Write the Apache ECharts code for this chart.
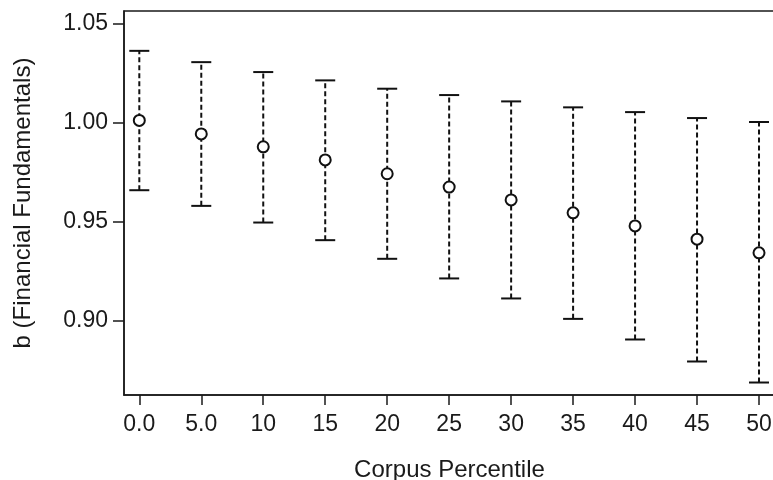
<!DOCTYPE html>
<html>
<head>
<meta charset="utf-8">
<script src="https://cdn.jsdelivr.net/npm/echarts@6/dist/echarts.min.js"></script>
<style>
html,body{margin:0;padding:0;background:#fff;}
#chart{width:773px;height:480px;}
</style>
</head>
<body>
<div id="chart"></div>
<script>
const categories = ["0.0","5.0","10","15","20","25","30","35","40","45","50"];
const estimates = [1.0011,0.9943,0.9878,0.9812,0.9742,0.9675,0.9610,0.9545,0.9479,0.9412,0.9343];
const upper = [1.0362,1.0305,1.0255,1.0213,1.0171,1.0139,1.0107,1.0077,1.0053,1.0023,1.0003];
const lower = [0.9659,0.9580,0.9496,0.9407,0.9313,0.9214,0.9113,0.9010,0.8906,0.8795,0.8689];
const yTicks = [0.90,0.95,1.00,1.05];

const idx = categories.map((c,i)=>i);
const barData = idx.map(i=>[i, lower[i], upper[i]]);
const pointData = idx.map(i=>[i, estimates[i]]);

const chart = echarts.init(document.getElementById('chart'));
const font = '"Liberation Sans", Arial, sans-serif';
const ink = '#1a1a1a';
chart.setOption({
  animation:false,
  backgroundColor:'#fff',
  grid:{left:124, top:11, right:-2, bottom:85, show:true, borderColor:ink, borderWidth:1.5,
        containLabel:false, outerBoundsMode:'none'},
  xAxis:{
    type:'value', min:-0.247, max:10.258,
    name:'Corpus Percentile', nameLocation:'middle', nameGap:63,
    nameTextStyle:{fontFamily:font, fontSize:24, color:ink},
    splitLine:{show:false},
    axisLine:{show:true, onZero:false, lineStyle:{color:ink, width:1.5}},
    axisTick:{show:true, inside:false, length:10, lineStyle:{color:ink, width:1.5}, customValues:idx},
    axisLabel:{fontFamily:font, fontSize:23, color:ink, margin:18, customValues:idx,
      formatter:v=>categories[Math.round(v)]}
  },
  yAxis:{
    type:'value', min:0.8626, max:1.0563,
    name:'b (Financial Fundamentals)', nameLocation:'middle', nameGap:89, nameRotate:90,
    nameTextStyle:{fontFamily:font, fontSize:24, color:ink},
    splitLine:{show:false},
    axisLine:{show:true, onZero:false, lineStyle:{color:ink, width:1.5}},
    axisTick:{show:true, inside:false, length:11, lineStyle:{color:ink, width:1.5}, customValues:yTicks},
    axisLabel:{fontFamily:font, fontSize:23, color:ink, margin:16, customValues:yTicks,
      formatter:v=>v.toFixed(2)}
  },
  series:[
    {
      type:'custom',
      data:barData,
      clip:false,
      renderItem:function(params, api){
        const x = api.value(0);
        const lo = api.coord([x, api.value(1)]);
        const hi = api.coord([x, api.value(2)]);
        const hw = 10;
        const solid = {stroke:'#111', lineWidth:2};
        return {type:'group', children:[
          {type:'line', shape:{x1:lo[0], y1:lo[1], x2:hi[0], y2:hi[1]},
           style:{stroke:'#111', lineWidth:2, lineDash:[5,3]}},
          {type:'line', shape:{x1:hi[0]-hw, y1:hi[1], x2:hi[0]+hw, y2:hi[1]}, style:solid},
          {type:'line', shape:{x1:lo[0]-hw, y1:lo[1], x2:lo[0]+hw, y2:lo[1]}, style:solid}
        ]};
      },
      z:2
    },
    {
      type:'scatter',
      data:pointData,
      symbol:'circle',
      symbolSize:11,
      itemStyle:{color:'#fff', borderColor:'#111', borderWidth:2, opacity:1},
      z:3
    }
  ]
});
</script>
</body>
</html>
